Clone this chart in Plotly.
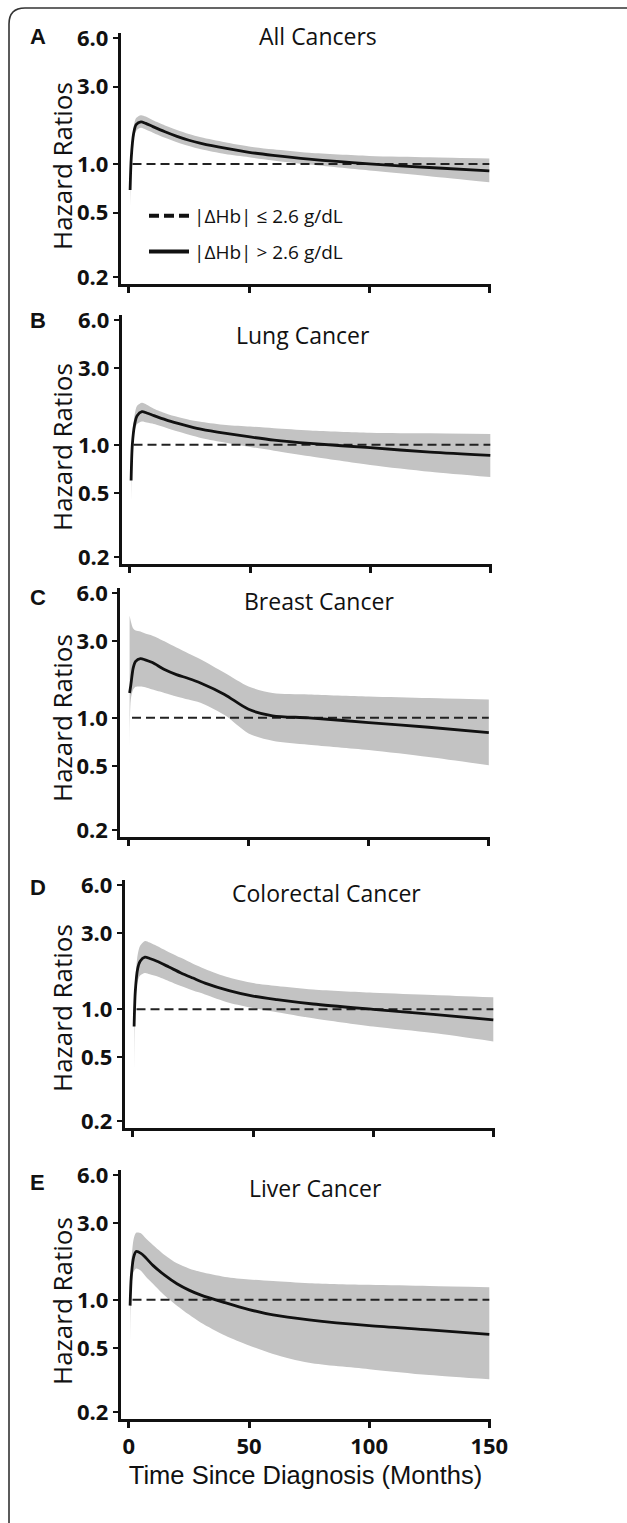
import math
import plotly.graph_objects as go

W, H = 627, 1523

# ---------------- data ----------------
months = [0.5, 1, 2, 3, 5, 7, 10, 15, 20, 25, 30, 40, 50, 60, 75, 100, 125, 150]

panel_letters = ["A", "B", "C", "D", "E"]
panel_titles = ["All Cancers", "Lung Cancer", "Breast Cancer", "Colorectal Cancer", "Liver Cancer"]

hr_all = [0.69, 1.1, 1.55, 1.75, 1.82, 1.78, 1.70, 1.58, 1.48, 1.40, 1.34, 1.25, 1.18, 1.13, 1.07, 1.0, 0.95, 0.905]
up_all = [0.72, 1.2, 1.7, 1.92, 2.0, 1.96, 1.86, 1.73, 1.62, 1.53, 1.46, 1.36, 1.28, 1.23, 1.17, 1.12, 1.10, 1.08]
lo_all = [0.54, 1.0, 1.42, 1.6, 1.67, 1.63, 1.56, 1.45, 1.36, 1.29, 1.23, 1.15, 1.10, 1.05, 0.99, 0.91, 0.84, 0.77]

hr_lung = [0.60, 1.0, 1.35, 1.52, 1.61, 1.58, 1.52, 1.43, 1.36, 1.30, 1.25, 1.18, 1.12, 1.07, 1.02, 0.96, 0.90, 0.86]
up_lung = [0.65, 1.1, 1.55, 1.75, 1.83, 1.78, 1.68, 1.57, 1.49, 1.43, 1.39, 1.33, 1.30, 1.27, 1.23, 1.19, 1.18, 1.17]
lo_lung = [0.44, 0.9, 1.22, 1.35, 1.40, 1.38, 1.35, 1.28, 1.21, 1.15, 1.10, 1.03, 0.97, 0.92, 0.85, 0.75, 0.68, 0.63]

hr_breast = [1.43, 1.6, 2.05, 2.25, 2.34, 2.3, 2.21, 2.0, 1.86, 1.76, 1.65, 1.40, 1.13, 1.03, 1.0, 0.935, 0.874, 0.81]
up_breast = [4.34, 4.0, 3.6, 3.5, 3.45, 3.35, 3.25, 3.0, 2.74, 2.52, 2.32, 1.91, 1.57, 1.43, 1.40, 1.36, 1.33, 1.30]
lo_breast = [0.46, 1.3, 1.5, 1.56, 1.57, 1.55, 1.50, 1.43, 1.36, 1.30, 1.24, 1.04, 0.80, 0.72, 0.68, 0.63, 0.57, 0.506]

hr_crc = [0.78, 1.3, 1.8, 2.0, 2.12, 2.08, 2.0, 1.84, 1.69, 1.57, 1.46, 1.31, 1.21, 1.15, 1.08, 1.0, 0.93, 0.86]
up_crc = [0.85, 1.5, 2.2, 2.5, 2.68, 2.62, 2.49, 2.28, 2.10, 1.93, 1.79, 1.58, 1.46, 1.40, 1.33, 1.27, 1.23, 1.19]
lo_crc = [0.40, 1.1, 1.5, 1.63, 1.69, 1.66, 1.61, 1.50, 1.40, 1.31, 1.24, 1.10, 1.02, 0.96, 0.88, 0.78, 0.71, 0.63]

hr_liver = [0.92, 1.4, 1.85, 2.0, 1.95, 1.83, 1.64, 1.42, 1.26, 1.15, 1.07, 0.96, 0.87, 0.805, 0.75, 0.69, 0.65, 0.61]
up_liver = [0.95, 1.7, 2.4, 2.62, 2.6, 2.42, 2.2, 1.90, 1.69, 1.57, 1.49, 1.39, 1.34, 1.31, 1.27, 1.24, 1.22, 1.20]
lo_liver = [0.52, 1.2, 1.5, 1.57, 1.52, 1.40, 1.26, 1.06, 0.92, 0.81, 0.72, 0.60, 0.52, 0.46, 0.405, 0.37, 0.34, 0.32]

ref_x = [1.5, 150]
ref_y = [1.0, 1.0]

y_tickvals = [0.2, 0.5, 1.0, 3.0, 6.0]
y_ticktext = ["0.2", "0.5", "1.0", "3.0", "6.0"]
x_tickvals = [0, 50, 100, 150]
x_ticktext = ["0", "50", "100", "150"]

legend_names = ["|ΔHb| ≤ 2.6 g/dL", "|ΔHb| > 2.6 g/dL"]

series = [
    (hr_all, up_all, lo_all),
    (hr_lung, up_lung, lo_lung),
    (hr_breast, up_breast, lo_breast),
    (hr_crc, up_crc, lo_crc),
    (hr_liver, up_liver, lo_liver),
]

# ---------------- layout geometry (pixels) ----------------
t6_px = [38, 320, 593, 885, 1175]      # pixel row of the 6.0 tick
t02_px = [277, 557, 830, 1121, 1412]   # pixel row of the 0.2 tick
xleft_px = [120.5, 121.5, 120, 124.5, 120.5]
x_width_px = 370
title_pos = [(318, 36), (303, 335), (319, 601), (327, 893), (315, 1188)]
letter_y = [36, 320, 597, 888, 1182]
one_px = [166, 447, 718, 1008, 1301]

FILL = "#c3c3c3"
LINE = "#111111"
FONT_TXT = "Open Sans"


def fx(p):
    return p / W


def fy(p):
    return 1 - p / H


fig = go.Figure()
layout = {}
annotations = []

for i in range(5):
    n = i + 1
    xa = "x" if n == 1 else f"x{n}"
    ya = "y" if n == 1 else f"y{n}"
    hr, up, lo = series[i]

    fig.add_trace(go.Scatter(x=months, y=lo, xaxis=xa, yaxis=ya, mode="lines",
                             line=dict(width=0, shape="spline", smoothing=0.8, color=FILL),
                             showlegend=False, hoverinfo="skip"))
    fig.add_trace(go.Scatter(x=months, y=up, xaxis=xa, yaxis=ya, mode="lines",
                             line=dict(width=0, shape="spline", smoothing=0.8, color=FILL),
                             fill="tonexty", fillcolor=FILL,
                             showlegend=False, hoverinfo="skip"))
    fig.add_trace(go.Scatter(x=ref_x, y=ref_y, xaxis=xa, yaxis=ya, mode="lines",
                             line=dict(width=2, color="#222222", dash="9px,5px"),
                             showlegend=False))
    fig.add_trace(go.Scatter(x=months, y=hr, xaxis=xa, yaxis=ya, mode="lines",
                             line=dict(width=2.8, color=LINE, shape="spline", smoothing=0.8),
                             showlegend=False))

    ppd = (t02_px[i] - t6_px[i]) / math.log10(30)
    top = t6_px[i] - 5
    bot = t02_px[i] + 7
    yr = [math.log10(0.2) - 7 / ppd, math.log10(6) + 5 / ppd]
    xr = [-3.5, 150.5]

    key_x = "xaxis" if n == 1 else f"xaxis{n}"
    key_y = "yaxis" if n == 1 else f"yaxis{n}"
    layout[key_x] = dict(
        domain=[fx(xleft_px[i]), fx(xleft_px[i] + x_width_px)],
        anchor=ya, range=xr, showgrid=False, zeroline=False, automargin=False,
        showline=True, linecolor="#111", linewidth=2.5,
        ticks="outside", ticklen=6, tickwidth=2.5, tickcolor="#111",
        tickvals=x_tickvals, ticktext=x_ticktext,
        showticklabels=(n == 5),
        tickfont=dict(family=FONT_TXT, size=22, color="#111", weight="bold"),
    )
    if n == 5:
        layout[key_x]["title"] = dict(text="Time Since Diagnosis (Months)",
                                      font=dict(family="Liberation Sans", size=25.5, color="#111"),
                                      standoff=7)
    layout[key_y] = dict(
        domain=[fy(bot), fy(top)],
        anchor=xa, type="log", range=yr, showgrid=False, zeroline=False, automargin=False,
        showline=True, linecolor="#111", linewidth=2.5,
        ticks="outside", ticklen=5, tickwidth=2, tickcolor="#111",
        tickvals=y_tickvals, ticktext=y_ticktext,
        tickfont=dict(family=FONT_TXT, size=22, color="#111", weight="bold"),
    )

    tx, ty = title_pos[i]
    annotations.append(dict(text=panel_titles[i], x=fx(tx), y=fy(ty), xref="paper", yref="paper",
                            xanchor="center", yanchor="middle", showarrow=False,
                            font=dict(family=FONT_TXT, size=23, color="#111")))
    annotations.append(dict(text=panel_letters[i], x=fx(37.5), y=fy(letter_y[i]), xref="paper", yref="paper",
                            xanchor="center", yanchor="middle", showarrow=False,
                            font=dict(family="Liberation Sans", size=22, color="#111", weight="bold")))
    annotations.append(dict(text="Hazard Ratios", x=fx(62), y=fy(one_px[i]), xref="paper", yref="paper",
                            xanchor="center", yanchor="middle", showarrow=False, textangle=-90,
                            font=dict(family=FONT_TXT, size=26, color="#111")))

# legend entries (empty traces carrying the styles)
fig.add_trace(go.Scatter(x=[None], y=[None], xaxis="x", yaxis="y", mode="lines", name=legend_names[0],
                         line=dict(width=4, color="#111", dash="10px,5px"), legendgroup="a", showlegend=True))
fig.add_trace(go.Scatter(x=[None], y=[None], xaxis="x", yaxis="y", mode="lines", name=legend_names[1],
                         line=dict(width=4, color="#111"), legendgroup="b", showlegend=True))

frame_path = (f"M {fx(9)} {fy(1523)} L {fx(9)} {fy(24)} Q {fx(9)} {fy(8)} {fx(25)} {fy(8)} "
              f"L {fx(627)} {fy(8)}")

fig.update_layout(
    width=W, height=H,
    margin=dict(l=0, r=0, t=0, b=0, pad=0, autoexpand=False),
    paper_bgcolor="white", plot_bgcolor="white",
    annotations=annotations,
    shapes=[dict(type="path", path=frame_path, xref="paper", yref="paper",
                 line=dict(color="#333", width=1.6))],
    showlegend=True,
    legend=dict(x=fx(144), y=fy(197), xanchor="left", yanchor="top",
                bgcolor="rgba(0,0,0,0)", font=dict(family=FONT_TXT, size=19, color="#111"),
                itemwidth=40, tracegroupgap=8, traceorder="grouped"),
    **layout,
)

fig.write_html("out.html", config={"displayModeBar": False},
               post_script="document.body.style.margin='0';")
